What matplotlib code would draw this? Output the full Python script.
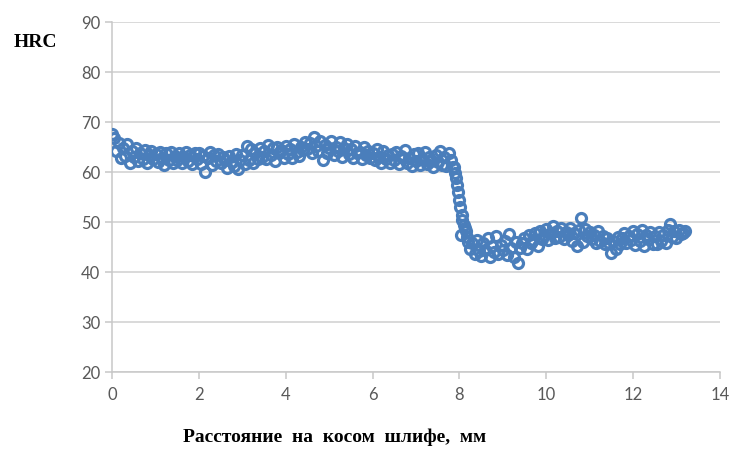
import matplotlib
matplotlib.use("Agg")
import matplotlib.pyplot as plt
import numpy as np

# hardness readings, one every 0.05 mm from 0 to 13.2 mm
hrc = [
    67.6, 66.9, 64.2, 65.8, 62.8, 64.9, 63.2, 65.6, 61.9, 64.3,
    63.0, 64.8, 62.3, 63.9, 62.6, 64.5, 61.8, 63.4, 64.2, 62.7,
    63.6, 62.1, 64.0, 62.9, 61.4, 63.8, 62.5, 64.1, 61.9, 63.2,
    62.4, 63.9, 61.8, 63.1, 64.0, 62.2, 63.5, 61.6, 63.8, 62.6,
    63.9, 61.7, 63.2, 60.1, 62.8, 64.0, 61.5, 63.4, 62.3, 63.7,
    61.8, 63.0, 62.4, 60.9, 63.3, 62.0, 61.2, 63.6, 60.6, 62.5,
    63.4, 61.6, 65.2, 62.4, 64.6, 61.9, 63.8, 62.7, 64.9, 63.1,
    64.2, 62.6, 65.5, 63.4, 64.8, 62.3, 65.1, 63.9, 64.4, 62.9,
    65.3, 63.6, 64.7, 62.9, 65.6, 64.1, 63.3, 65.0, 64.4, 66.0,
    64.6, 65.8, 63.9, 67.1, 65.2, 64.3, 66.2, 62.4, 65.5, 63.8,
    64.9, 66.3, 63.5, 65.0, 64.2, 66.0, 63.1, 64.8, 65.6, 63.7,
    64.6, 62.9, 65.3, 63.8, 64.1, 62.6, 65.0, 63.4, 64.3, 62.8,
    63.9, 62.4, 64.6, 63.0, 61.9, 64.2, 62.7, 63.5, 61.8, 63.7,
    62.5, 64.1, 61.6, 63.2, 62.8, 64.4, 61.9, 62.9, 61.3, 63.6,
    62.2, 63.8, 61.4, 62.6, 64.0, 61.7, 63.1, 62.3, 61.0, 63.5,
    62.1, 64.3, 61.5, 63.0, 61.2, 63.9, 62.4, 61.0, 59.8, 57.5,
    54.5, 51.5, 49.5, 48.2, 46.0, 44.6, 45.8, 43.6, 46.4, 44.2,
    43.3, 45.9, 44.4, 46.8, 43.1, 45.2, 44.0, 47.2, 43.6, 45.4,
    44.5, 46.3, 43.4, 47.6, 44.8, 43.0, 46.0, 41.8, 44.9, 45.9,
    46.8, 44.6, 47.5, 45.8, 46.4, 47.9, 45.3, 48.2, 46.6, 47.4,
    48.6, 46.5, 47.8, 49.2, 46.9, 48.3, 47.1, 48.9, 46.7, 48.0,
    47.4, 48.8, 46.2, 47.9, 45.3, 48.5, 50.8, 46.0, 48.6, 47.3,
    48.1, 46.6, 47.5, 45.8, 48.3, 46.3, 47.2, 45.6, 46.9, 45.9,
    43.8, 46.2, 44.6, 47.0, 45.7, 46.8, 47.9, 45.9, 47.3, 46.5,
    48.3, 45.4, 47.6, 46.2, 48.5, 45.2, 47.4, 46.7, 48.0, 45.6,
    47.2, 45.7, 48.1, 46.3, 47.5, 45.8, 48.4, 49.6, 47.0, 48.2,
    46.9, 48.5, 47.6, 47.9, 48.2,
]
dist = np.linspace(0, 13.2, len(hrc))

# extra readings along the steep drop near 8 mm
drop_dist = [7.88, 7.92, 7.97, 8.02, 8.03, 8.07, 8.12, 8.17]
drop_hrc = [61.0, 58.8, 56.0, 53.0, 47.5, 50.5, 48.8, 47.0]

blue = "#4a7ebb"
grey = "#595959"

fig = plt.figure(figsize=(7.33, 4.5), dpi=100)
ax = fig.add_axes([0.153, 0.173, 0.829, 0.778])

ax.plot(dist, hrc, "o", ms=7.2, mew=2.3, mfc="none", color=blue, zorder=3)
ax.plot(drop_dist, drop_hrc, "o", ms=7.2, mew=2.3, mfc="none", color=blue, zorder=3)

ax.set_xlim(0, 14)
ax.set_ylim(20, 90)
ax.set_xticks(range(0, 15, 2))
ax.set_yticks(range(20, 91, 10))
ax.yaxis.grid(True, color="#d0d0d0", lw=1.1)
ax.set_axisbelow(True)

for s in ("top", "right"):
    ax.spines[s].set_visible(False)
for s in ("left", "bottom"):
    ax.spines[s].set_color("#c8c8c8")
    ax.spines[s].set_linewidth(1.1)

ax.tick_params(axis="both", colors="#c8c8c8", length=5, width=1.1,
               labelcolor=grey, labelsize=12)
ax.tick_params(axis="x", pad=6)
for lab in ax.get_xticklabels() + ax.get_yticklabels():
    lab.set_family("Lato")

fig.text(0.019, 0.905, "HRC", family="Liberation Serif", weight="bold",
         fontsize=14, va="center", ha="left")
fig.text(0.457, 0.028, "Расстояние  на  косом  шлифе,  мм",
         family="Liberation Serif", weight="bold", fontsize=14,
         va="center", ha="center")

fig.savefig("out.png", dpi=100)
